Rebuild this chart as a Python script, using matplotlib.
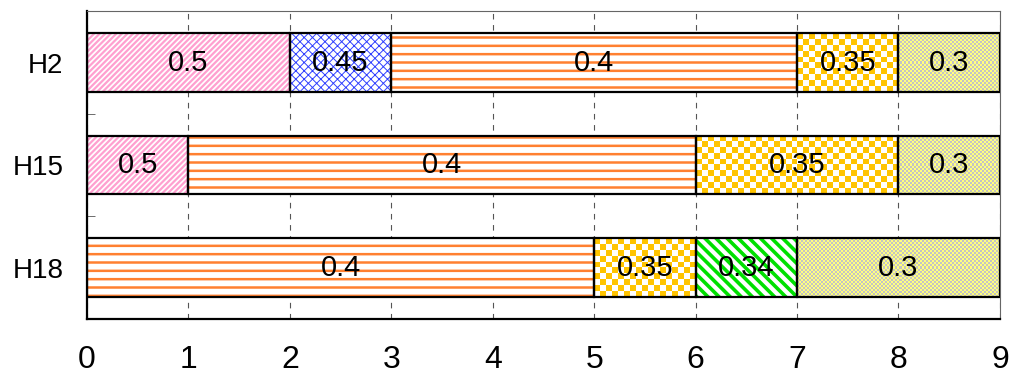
import numpy as np
import matplotlib
matplotlib.use("Agg")
import matplotlib.pyplot as plt

plt.rcParams['font.family'] = ['Liberation Sans', 'DejaVu Sans']

# rows of the chart, top to bottom
categories = ['H2', 'H15', 'H18']
row_widths = [
    [2, 1, 4, 1, 1],
    [1, 5, 2, 1],
    [5, 1, 1, 2],
]
row_values = [
    [0.5, 0.45, 0.4, 0.35, 0.3],
    [0.5, 0.4, 0.35, 0.3],
    [0.4, 0.35, 0.34, 0.3],
]
x_ticks = [0, 1, 2, 3, 4, 5, 6, 7, 8, 9]

# fill style per value: (kind, colour, hatch, hatch width, cell px, second colour)
styles = {
    0.5:  ('hatch', '#ffa0d0', '//////', 1.6, None, None),
    0.45: ('hatch', '#3040ff', 'xxxx', 0.7, None, None),
    0.4:  ('hatch', '#ff8030', '--', 1.8, None, None),
    0.35: ('check', '#ffc400', None, None, 6, 'white'),
    0.34: ('hatch', '#00e000', '\\\\\\', 2.6, None, None),
    0.3:  ('check', '#ffff80', None, None, 2, '#c4c4c4'),
}

fig = plt.figure(figsize=(10.11, 3.76), dpi=100)
ax = fig.add_axes([0.086, 0.152, 0.903, 0.818])
ax.set_xlim(0, 9)
ax.set_ylim(2.5, -0.5)

bar_h = 0.57

# pixel size of one data unit, needed for checker cells
fig.canvas.draw()
p0 = ax.transData.transform((0, 0))
p1 = ax.transData.transform((1, 1))
px_x = abs(p1[0] - p0[0])
px_y = abs(p1[1] - p0[1])

for i, cat in enumerate(categories):
    left = 0
    for w, v in zip(row_widths[i], row_values[i]):
        kind, col, hatch, hlw, cell, col2 = styles[v]
        if kind == 'hatch':
            b = ax.barh(i, w, left=left, height=bar_h, color='white',
                        edgecolor=col, hatch=hatch, linewidth=0, zorder=2)[0]
            if hasattr(b, 'set_hatch_linewidth'):
                b.set_hatch_linewidth(hlw)
            else:
                plt.rcParams['hatch.linewidth'] = hlw
        else:
            b = ax.barh(i, w, left=left, height=bar_h, color='white',
                        linewidth=0, zorder=2)[0]
            nx = int(round(w * px_x / cell))
            ny = int(round(bar_h * px_y / cell))
            board = (np.indices((ny, nx)).sum(axis=0) % 2)
            cmap = matplotlib.colors.ListedColormap([col, col2])
            im = ax.imshow(board, cmap=cmap, aspect='auto', interpolation='nearest',
                           extent=(left, left + w, i + bar_h / 2, i - bar_h / 2),
                           zorder=2.5)
            im.set_clip_path(b)
        # black outline on top
        ax.barh(i, w, left=left, height=bar_h, color='none',
                edgecolor='black', linewidth=1.6, zorder=3)
        ax.text(left + w / 2, i, str(v), ha='center', va='center',
                fontsize=21, color='black', zorder=4)
        left += w

ax.set_xlim(0, 9)
ax.set_ylim(2.5, -0.5)

ax.set_xticks(x_ticks)
ax.set_yticks(range(len(categories)))
ax.set_yticklabels(categories)
ax.set_yticks([0.5, 1.5], minor=True)
ax.tick_params(axis='x', length=0, pad=19, labelsize=23)
ax.tick_params(axis='y', which='major', length=0, pad=17, labelsize=20)
ax.tick_params(axis='y', which='minor', length=6, direction='in', color='#555555')

ax.grid(axis='x', color='#555555', linestyle=(0, (5, 5)), linewidth=0.8, zorder=0)
ax.set_axisbelow(True)

ax.spines['left'].set_linewidth(1.6)
ax.spines['bottom'].set_linewidth(1.6)
ax.spines['top'].set_color('#666666')
ax.spines['right'].set_color('#666666')
ax.spines['top'].set_linewidth(0.8)
ax.spines['right'].set_linewidth(0.8)

fig.savefig('out.png', dpi=100)
